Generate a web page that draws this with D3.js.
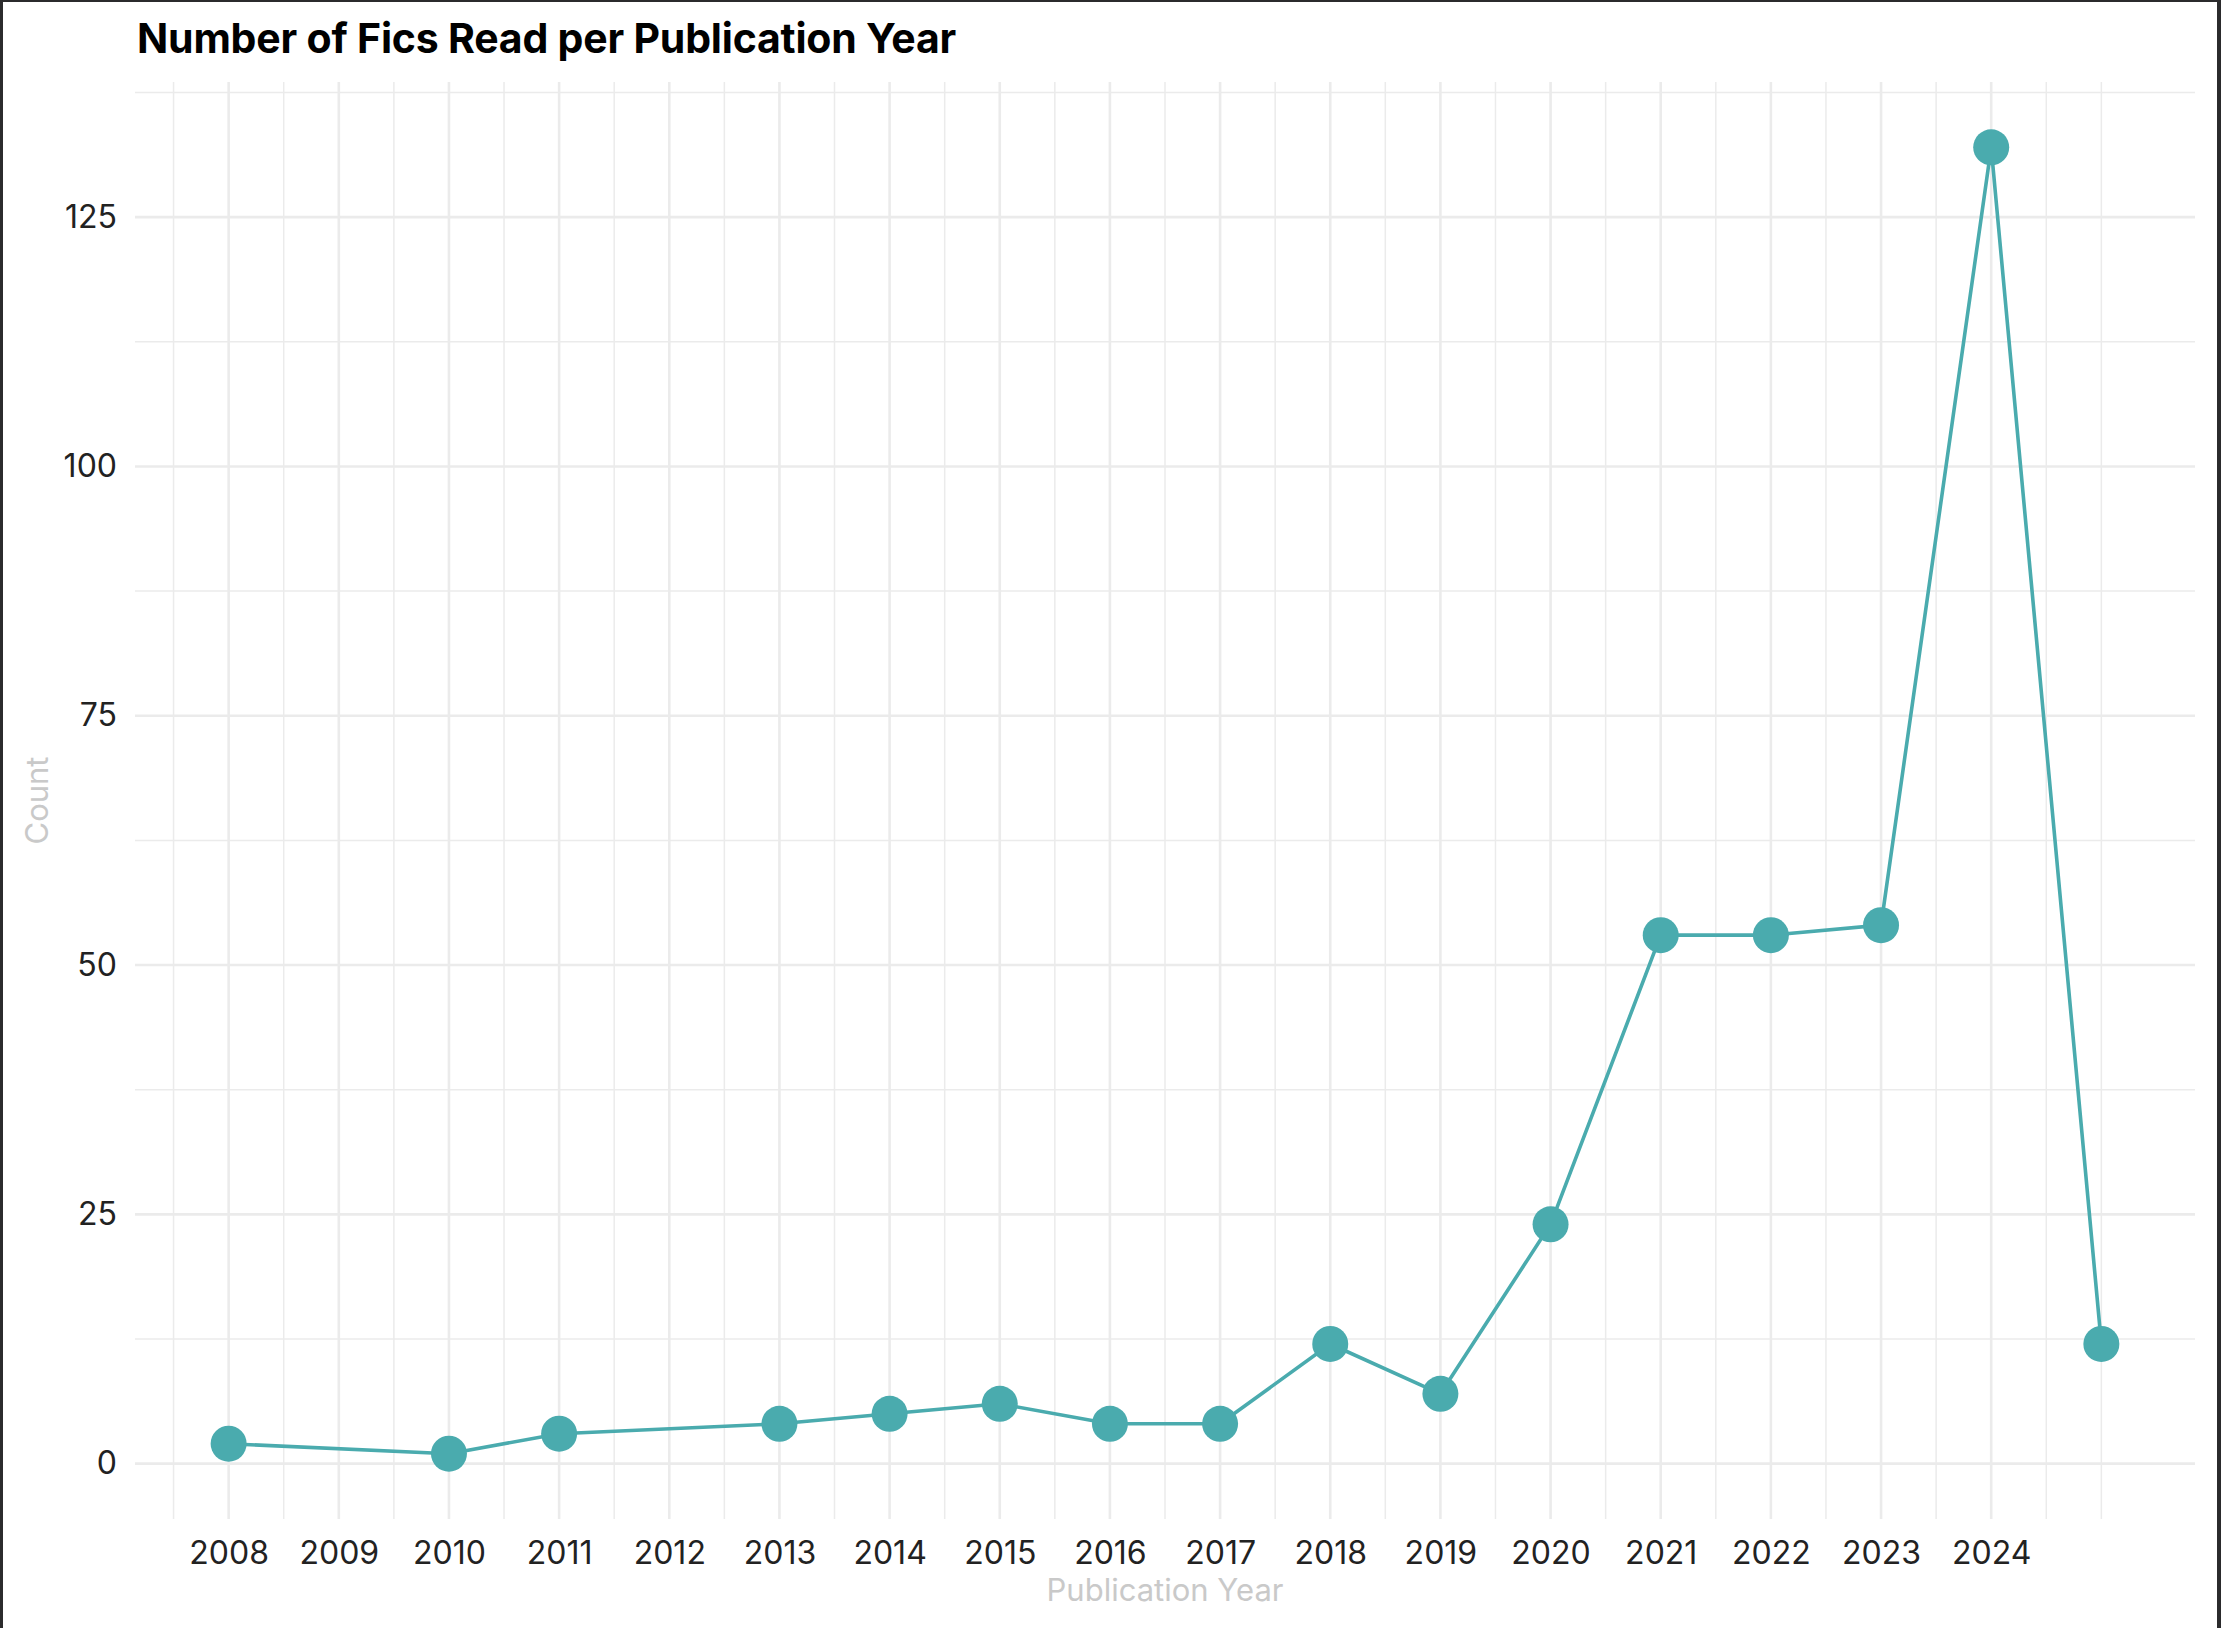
<!DOCTYPE html>
<html>
<head>
<meta charset="utf-8">
<script src="https://cdn.jsdelivr.net/npm/d3@7"></script>
<style>
  html, body { margin: 0; padding: 0; background: #2b2b2d; }
  svg { display: block; }
  text { font-family: "Inter", "Roboto", sans-serif; }
</style>
</head>
<body>
<svg id="chart" width="2221" height="1628"></svg>
<script>
// ---- data ----
const years  = [2008, 2010, 2011, 2013, 2014, 2015, 2016, 2017, 2018, 2019, 2020, 2021, 2022, 2023, 2024, 2025];
const counts = [2, 1, 3, 4, 5, 6, 4, 4, 12, 7, 24, 53, 53, 54, 132, 12];
const xTickLabels = [2008, 2009, 2010, 2011, 2012, 2013, 2014, 2015, 2016, 2017, 2018, 2019, 2020, 2021, 2022, 2023, 2024];
const yTickValues = [0, 25, 50, 75, 100, 125];
const titleText = "Number of Fics Read per Publication Year";
const xTitle = "Publication Year";
const yTitle = "Count";

// ---- layout ----
const W = 2221, H = 1628;
const panel = { left: 135, right: 2195, top: 82, bottom: 1519 };
const lineColor = "#4aabae";
const gridColor = "#ebebeb";

const svg = d3.select("#chart");
svg.append("rect").attr("x", 3).attr("y", 2).attr("width", W - 7).attr("height", H - 2).attr("fill", "#ffffff");

const data = years.map((y, i) => ({ year: y, count: counts[i] }));

function expand(ext, f) { const d = (ext[1] - ext[0]) * f; return [ext[0] - d, ext[1] + d]; }
const x = d3.scaleLinear().domain(expand(d3.extent(years), 0.05)).range([panel.left, panel.right]);
const y = d3.scaleLinear().domain(expand(d3.extent(counts), 0.05)).range([panel.bottom, panel.top]);

// minor breaks (ggplot-like)
function minorBreaks(major, domain) {
  const step = major[1] - major[0];
  let b = major.slice();
  if (domain[0] < b[0]) b.unshift(b[0] - step);
  if (domain[1] > b[b.length - 1]) b.push(b[b.length - 1] + step);
  const out = [];
  for (let i = 0; i < b.length - 1; i++) { out.push(b[i], (b[i] + b[i + 1]) / 2); }
  out.push(b[b.length - 1]);
  return out.filter(v => v >= domain[0] && v <= domain[1] && !major.includes(v));
}
const xMinor = minorBreaks(xTickLabels, x.domain());
const yMinor = minorBreaks(yTickValues, y.domain());

const grid = svg.append("g");
grid.selectAll(".ymin").data(yMinor).join("line")
  .attr("x1", panel.left).attr("x2", panel.right)
  .attr("y1", d => y(d)).attr("y2", d => y(d))
  .attr("stroke", gridColor).attr("stroke-width", 1.5);
grid.selectAll(".xmin").data(xMinor).join("line")
  .attr("y1", panel.top).attr("y2", panel.bottom)
  .attr("x1", d => x(d)).attr("x2", d => x(d))
  .attr("stroke", gridColor).attr("stroke-width", 1.5);
grid.selectAll(".ymaj").data(yTickValues).join("line")
  .attr("x1", panel.left).attr("x2", panel.right)
  .attr("y1", d => y(d)).attr("y2", d => y(d))
  .attr("stroke", gridColor).attr("stroke-width", 2.6);
grid.selectAll(".xmaj").data(xTickLabels).join("line")
  .attr("y1", panel.top).attr("y2", panel.bottom)
  .attr("x1", d => x(d)).attr("x2", d => x(d))
  .attr("stroke", gridColor).attr("stroke-width", 2.6);

// axes
const xAxis = svg.append("g").attr("transform", `translate(0,${panel.bottom})`)
  .call(d3.axisBottom(x).tickValues(xTickLabels).tickFormat(d3.format("d")).tickSize(0).tickPadding(22));
xAxis.select(".domain").remove();
xAxis.selectAll("text").attr("font-size", 32).attr("fill", "#222").attr("font-family", "Inter");

const yAxis = svg.append("g").attr("transform", `translate(${panel.left - 18},0)`)
  .call(d3.axisLeft(y).tickValues(yTickValues).tickSize(0).tickPadding(0));
yAxis.select(".domain").remove();
yAxis.selectAll("text").attr("font-size", 32).attr("fill", "#222").attr("font-family", "Inter");

// line + points
const line = d3.line().x(d => x(d.year)).y(d => y(d.count));
svg.append("path").datum(data).attr("d", line)
  .attr("fill", "none").attr("stroke", lineColor).attr("stroke-width", 3.6).attr("stroke-linejoin", "round");
svg.selectAll(".pt").data(data).join("circle")
  .attr("cx", d => x(d.year)).attr("cy", d => y(d.count)).attr("r", 18)
  .attr("fill", lineColor);

// titles
svg.append("text").attr("x", 137).attr("y", 53)
  .attr("font-size", 41).attr("font-weight", 700).attr("fill", "#000")
  .attr("letter-spacing", -0.2)
  .text(titleText);
svg.append("text").attr("x", (panel.left + panel.right) / 2).attr("y", 1601)
  .attr("text-anchor", "middle").attr("font-size", 31).attr("fill", "#c9c9c9")
  .text(xTitle);
svg.append("text").attr("transform", `translate(48,${(panel.top + panel.bottom) / 2}) rotate(-90)`)
  .attr("text-anchor", "middle").attr("font-size", 31).attr("fill", "#c9c9c9")
  .text(yTitle);
</script>
</body>
</html>
